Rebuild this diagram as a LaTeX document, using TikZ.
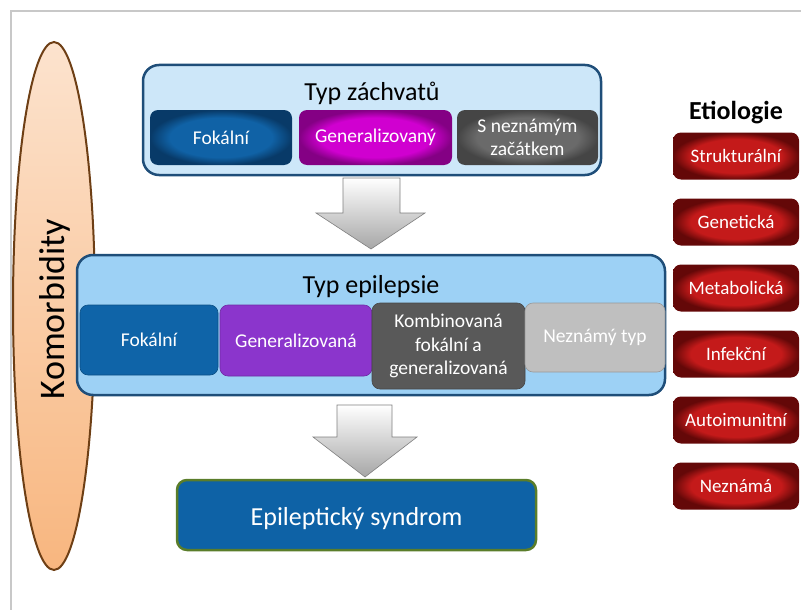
\documentclass[tikz,border=0pt]{standalone}
\usepackage{fontspec}
\setmainfont{Carlito}
\usetikzlibrary{shapes.geometric}

\definecolor{navy}{HTML}{1F4E79}
\definecolor{paleblue}{HTML}{CDE7F9}
\definecolor{skyblue}{HTML}{9DD1F5}
\definecolor{fokblue}{HTML}{0F64A8}
\definecolor{genpurple}{HTML}{8B35CC}
\definecolor{kombgray}{HTML}{595959}
\definecolor{unkgray}{HTML}{BFBFBF}
\definecolor{synblue}{HTML}{0E62A6}
\definecolor{syngreen}{HTML}{5A7D2A}
\definecolor{peachtop}{HTML}{FCE3CE}
\definecolor{peachbot}{HTML}{F8B67F}
\definecolor{brownline}{HTML}{6E3F15}
\definecolor{framegray}{HTML}{C8C8C8}
\definecolor{arrowgray}{HTML}{A6A6A6}
\definecolor{fokin}{HTML}{1062A6}
\definecolor{fokout}{HTML}{083A68}
\definecolor{genin}{HTML}{D000D0}
\definecolor{genout}{HTML}{840084}
\definecolor{unkin}{HTML}{6A6A6A}
\definecolor{unkout}{HTML}{454545}
\definecolor{redin}{HTML}{C41A1A}
\definecolor{redout}{HTML}{640808}

\colorlet{glowin}{white}
\colorlet{glowout}{black}
\pgfdeclareradialshading[glowin,glowout]{glow}{\pgfpointorigin}{color(0bp)=(glowin); color(18bp)=(glowin); color(25bp)=(glowout); color(50bp)=(glowout)}

\tikzset{
  glow/.style 2 args={/utils/exec={\colorlet{glowin}{#1}\colorlet{glowout}{#2}}, shading=glow},
}

\begin{document}
\begin{tikzpicture}[x=1pt, y=-1pt,
    big/.style={draw=navy, line width=2.5pt, rounded corners=16pt},
    title/.style={anchor=base, font=\fontsize{26}{30}\selectfont},
    tile/.style={rounded corners=8pt, text=white, align=center, inner sep=2pt,
                 font=\fontsize{19.5}{23.5}\selectfont},
    flat/.style={tile, fill=#1, draw=#1!80!black, line width=0.6pt},
    cause/.style={tile, minimum width=126pt, minimum height=47pt, glow={redin}{redout},
                  font=\fontsize{19}{22}\selectfont},
    blockarrow/.style={top color=white, bottom color=arrowgray, draw=gray, line width=0.6pt}]

  \useasboundingbox (0,0) rectangle (801,610);
  \draw[framegray, line width=2pt] (11,610) -- (11,11) -- (801,11);

  % komorbidity
  \node[ellipse, draw=brownline, line width=2pt, top color=peachtop, bottom color=peachbot,
        minimum width=82pt, minimum height=528pt] (ell) at (54,306) {};
  \node[rotate=90, font=\fontsize{36}{40}\selectfont] (komor) at (55,309) {Komorbidity};

  % typ zachvatu
  \node[big, fill=paleblue, minimum width=458pt, minimum height=110pt] (seiz) at (372,120) {};
  \node[title]  (seizt) at (372,100) {Typ záchvatů};
  \node[tile, glow={fokin}{fokout}, minimum width=142pt, minimum height=55pt] (sfok) at (221,137.5) {Fokální};
  \node[tile, glow={genin}{genout}, minimum width=153pt, minimum height=55pt] (sgen) at (375.5,137.5) {Generalizovaný};
  \node[tile, glow={unkin}{unkout}, minimum width=141pt, minimum height=55pt] (sunk) at (527.5,137.5) {S neznámým\\začátkem};

  \shade[blockarrow] (343,178) -- (400,178) -- (400,213) -- (425,213) -- (371,249) -- (316,213) -- (343,213) -- cycle;

  % typ epilepsie
  \node[big, fill=skyblue, minimum width=588pt, minimum height=140pt] (epi) at (371,325) {};
  \node[title]  (epit) at (371,293) {Typ epilepsie};
  \node[flat=fokblue,   minimum width=138pt, minimum height=70pt] (efok) at (149,340) {Fokální};
  \node[flat=genpurple, minimum width=152pt, minimum height=71pt] (egen) at (296,340.5) {Generalizovaná};
  \node[flat=kombgray,  minimum width=153pt, minimum height=86pt] (ekomb) at (448.5,346) {Kombinovaná\\fokální a\\generalizovaná};
  \node[flat=unkgray,   minimum width=140pt, minimum height=69pt] (eunk) at (595,337.5) {Neznámý typ};

  \shade[blockarrow] (337,405) -- (392,405) -- (392,437) -- (417,437) -- (365,477) -- (313,437) -- (337,437) -- cycle;

  % syndrom
  \node[rounded corners=10pt, fill=synblue, draw=syngreen, line width=2.5pt,
        minimum width=359pt, minimum height=70pt] (syn) at (356.5,515) {};
  \node[title, text=white] (synt) at (356.5,525) {Epileptický syndrom};

  % etiologie
  \node[title, font=\bfseries\fontsize{26}{30}\selectfont] (etio) at (736,119) {Etiologie};
  \foreach \name [count=\i from 0] in {Strukturální, Genetická, Metabolická, Infekční, Autoimunitní, Neznámá}
    \node[cause] (cause\i) at (736,{156+66*\i}) {\name};
\end{tikzpicture}
\end{document}
